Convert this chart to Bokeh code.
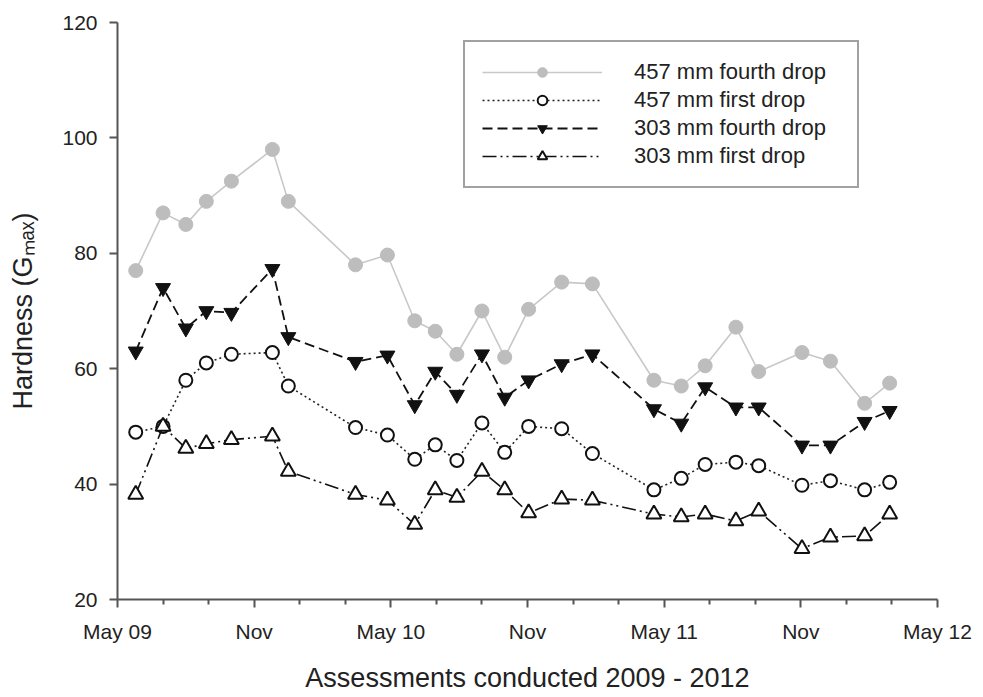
from bokeh.plotting import figure
from bokeh.models import Range1d, FixedTicker
from bokeh.embed import file_html
from bokeh.resources import INLINE

# assessment dates, in months after May 2009
months = [0.8, 2.0, 3.0, 3.9, 5.0, 6.8, 7.5, 10.45, 11.85, 13.05, 13.95, 14.9, 16.0,
          17.0, 18.05, 19.5, 20.85, 23.55, 24.75, 25.8, 27.15, 28.15, 30.05, 31.3, 32.8, 33.9]

fourth_457 = [77.0, 87.0, 85.0, 89.0, 92.5, 98.0, 89.0, 78.0, 79.7, 68.3, 66.5, 62.5, 70.0,
              62.0, 70.3, 75.0, 74.7, 58.0, 57.0, 60.5, 67.2, 59.5, 62.8, 61.3, 54.0, 57.5]
first_457 = [49.0, 50.0, 58.0, 61.0, 62.5, 62.8, 57.0, 49.8, 48.5, 44.3, 46.8, 44.1, 50.6,
             45.5, 50.0, 49.6, 45.3, 39.0, 41.0, 43.4, 43.8, 43.2, 39.8, 40.6, 39.0, 40.3]
fourth_303 = [63.0, 74.0, 67.0, 70.0, 69.7, 77.3, 65.5, 61.2, 62.3, 53.7, 59.5, 55.5, 62.5,
              55.0, 58.0, 60.8, 62.5, 53.0, 50.5, 56.8, 53.3, 53.3, 46.7, 46.7, 50.8, 52.7]
first_303 = [38.2, 50.0, 46.2, 47.0, 47.7, 48.3, 42.2, 38.2, 37.2, 33.0, 39.0, 37.7, 42.2,
             39.0, 35.0, 37.4, 37.2, 34.8, 34.3, 34.8, 33.6, 35.3, 28.8, 30.8, 31.0, 34.8]

x_ticks = [0, 6, 12, 18, 24, 30, 36]
x_tick_labels = ["May 09", "Nov", "May 10", "Nov", "May 11", "Nov", "May 12"]
x_minor_ticks = [2, 4, 8, 10, 14, 16, 20, 22, 26, 28, 32, 34]
y_ticks = [20, 40, 60, 80, 100, 120]

FONT = "Liberation Sans"
TEXT = "#222222"
AXIS = "#555555"

p = figure(width=980, height=695, output_backend="svg", toolbar_location=None,
           x_range=Range1d(0, 36), y_range=Range1d(20, 120),
           min_border_left=117, min_border_right=43, min_border_top=22, min_border_bottom=92)
p.outline_line_color = None
p.grid.visible = False

# 457 mm fourth drop
p.line(months, fourth_457, line_color="#c8c8c8", line_width=1.6,
       legend_label="457 mm fourth drop")
p.scatter(months, fourth_457, marker="circle", size=14, fill_color="#bdbdbd",
          line_color="#bdbdbd", legend_label="457 mm fourth drop")

# 457 mm first drop
p.line(months, first_457, line_color="#222222", line_width=1.6, line_dash="2 3",
       legend_label="457 mm first drop")
p.scatter(months, first_457, marker="circle", size=13, fill_color="white",
          line_color="#111111", line_width=2, legend_label="457 mm first drop")

# 303 mm fourth drop
p.line(months, fourth_303, line_color="#111111", line_width=1.8, line_dash="10 5",
       legend_label="303 mm fourth drop")
p.scatter(months, fourth_303, marker="inverted_triangle", size=15, fill_color="#111111",
          line_color="#111111", legend_label="303 mm fourth drop")

# 303 mm first drop
p.line(months, first_303, line_color="#111111", line_width=1.6, line_dash="14 4 2 4 2 4",
       legend_label="303 mm first drop")
p.scatter(months, first_303, marker="triangle", size=15, fill_color="white",
          line_color="#111111", line_width=2, legend_label="303 mm first drop")

# axes
p.xaxis.ticker = FixedTicker(ticks=x_ticks, minor_ticks=x_minor_ticks)
p.xaxis.major_label_overrides = dict(zip(x_ticks, x_tick_labels))
p.yaxis.ticker = FixedTicker(ticks=y_ticks)

for ax in (p.xaxis[0], p.yaxis[0]):
    ax.axis_line_color = AXIS
    ax.axis_line_width = 2
    ax.major_tick_line_color = AXIS
    ax.major_tick_line_width = 2
    ax.major_tick_in = 0
    ax.major_tick_out = 8
    ax.minor_tick_line_color = AXIS
    ax.minor_tick_line_width = 2
    ax.minor_tick_in = 0
    ax.minor_tick_out = 5
    ax.major_label_text_font = FONT
    ax.major_label_text_font_size = "21px"
    ax.major_label_text_color = TEXT
    ax.major_label_standoff = 12
    ax.axis_label_text_font = FONT
    ax.axis_label_text_font_size = "27px"
    ax.axis_label_text_font_style = "normal"
    ax.axis_label_text_color = TEXT

p.yaxis.minor_tick_line_color = None
p.xaxis.axis_label = "Assessments conducted 2009 - 2012"
p.xaxis.axis_label_standoff = 17
p.yaxis.axis_label = "Hardness (G\u2098\u2090\u2093)"
p.yaxis.axis_label_standoff = 21

# legend
lg = p.legend[0]
lg.location = (346, 411)
lg.border_line_color = "#444444"
lg.border_line_width = 2
lg.background_fill_color = "white"
lg.background_fill_alpha = 1
lg.label_text_font = FONT
lg.label_text_font_size = "22px"
lg.label_text_color = TEXT
lg.glyph_width = 120
lg.glyph_height = 24
lg.label_height = 24
lg.label_width = 206
lg.label_standoff = 32
lg.padding = 17
lg.spacing = 2
lg.margin = 0

open("out.html", "w").write(file_html(p, INLINE))
